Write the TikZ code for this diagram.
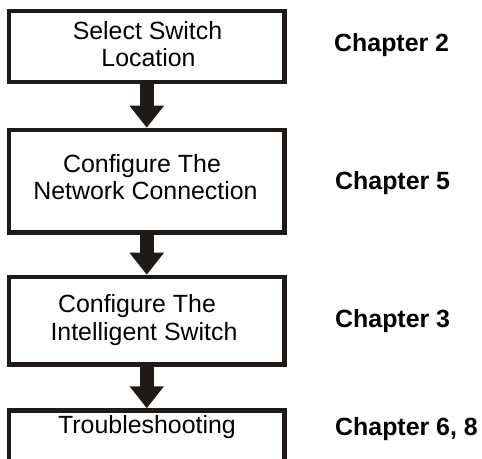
\documentclass[tikz,border=0pt]{standalone}
\usepackage{fontspec}
\setmainfont{Liberation Sans}
\usetikzlibrary{arrows.meta}
\definecolor{ink}{HTML}{1F1A17}
\tikzset{
  stepbox/.style={draw=ink, line width=4.5bp, rectangle, inner sep=0pt, minimum width=275.5bp},
  boxtext/.style={anchor=base, inner sep=0pt, font=\fontsize{25}{28}\selectfont},
  chap/.style={anchor=base west, inner sep=0pt, font=\fontsize{25}{28}\selectfont\bfseries},
  blockarrow/.style={draw=ink, line width=14bp, -{Triangle[width=33bp,length=22bp]}}
}
\begin{document}
\begin{tikzpicture}[x=1bp,y=-1bp]
\useasboundingbox (0,0) rectangle (482,459);
% boxes
\node[stepbox, minimum height=71bp]   (b1) at (146.75,46.5) {};
\node[stepbox, minimum height=102.5bp] (b2) at (146.75,181.25) {};
\node[stepbox, minimum height=87.5bp] (b3) at (146.75,320.75) {};
\node[stepbox, minimum height=69.5bp] (b4) at (146.75,445.25) {};
% box texts
\node[boxtext] (t1a) at (147.5,39.3) {Select Switch};
\node[boxtext] (t1b) at (148.5,66.7) {Location};
\node[boxtext] (t2a) at (142,172.7) {Configure The};
\node[boxtext] (t2b) at (145.5,200) {Network Connection};
\node[boxtext] (t3a) at (137,312) {Configure The};
\node[boxtext] (t3b) at (144,340) {Intelligent Switch};
\node[boxtext] (t4a) at (147,433) {Troubleshooting};
% chapter labels
\node[chap] (c1) at (334,52) {Chapter 2};
\node[chap] (c2) at (335,189.3) {Chapter 5};
\node[chap] (c3) at (335,327.3) {Chapter 3};
\node[chap] (c4) at (335,435) {Chapter 6, 8};
% arrows
\draw[blockarrow] (b1.south) -- (b2.north);
\draw[blockarrow] (b2.south) -- (b3.north);
\draw[blockarrow] (b3.south) -- (b4.north);
\end{tikzpicture}
\end{document}
